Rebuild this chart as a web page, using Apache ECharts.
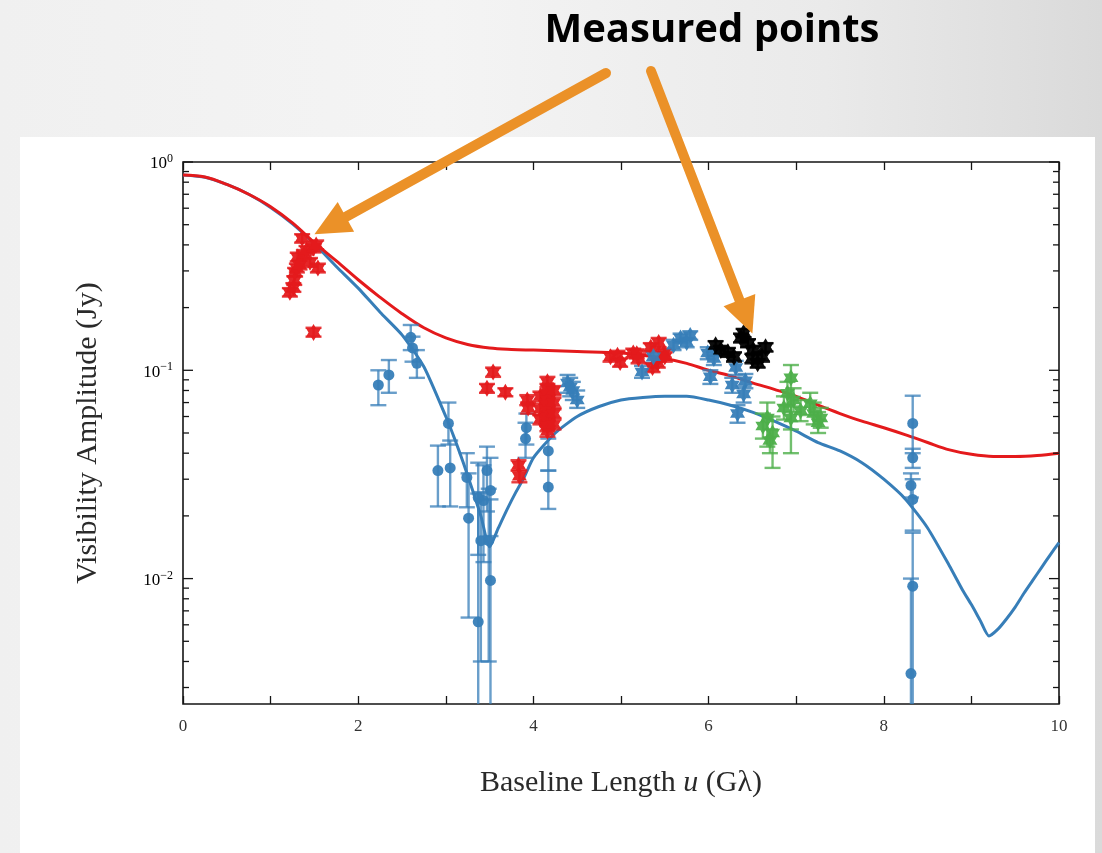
<!DOCTYPE html>
<html>
<head>
<meta charset="utf-8">
<title>Visibility amplitude vs baseline length</title>
<script src="https://cdn.jsdelivr.net/npm/echarts@6/dist/echarts.min.js"></script>
<style>
  html, body { margin: 0; padding: 0; width: 1102px; height: 853px; overflow: hidden; }
  body { position: relative; background: linear-gradient(90deg, #f0f0f0 0%, #f4f4f4 40%, #eaeaea 75%, #dadada 100%); }
  #panel { position: absolute; left: 20px; top: 137px; width: 1075px; height: 716px; background: #ffffff; }
  #chart { position: absolute; left: 0; top: 0; width: 1102px; height: 853px; }
</style>
</head>
<body>
<div id="panel"></div>
<div id="chart"></div>
<script>
// ---- model curves: [u (Gλ), amplitude (Jy)] ----
const redModel = [
  [0, 0.866], [0.25, 0.847], [0.5, 0.78], [0.75, 0.70], [1.0, 0.61], [1.25, 0.51],
  [1.5, 0.41], [1.75, 0.335], [2.0, 0.272], [2.25, 0.224], [2.5, 0.187], [2.75, 0.160],
  [3.0, 0.143], [3.25, 0.133], [3.5, 0.128], [3.75, 0.126], [4.0, 0.125], [4.5, 0.123],
  [5.0, 0.121], [5.25, 0.118], [5.5, 0.114], [5.75, 0.108], [6.0, 0.100], [6.25, 0.094],
  [6.5, 0.087], [6.75, 0.081], [7.0, 0.075], [7.25, 0.068], [7.5, 0.062], [7.75, 0.057],
  [8.0, 0.053], [8.25, 0.049], [8.5, 0.045], [8.75, 0.0415], [9.0, 0.0395], [9.25, 0.0386],
  [9.5, 0.0386], [9.75, 0.039], [10, 0.040]
];
const blueModel = [
  [0, 0.866], [0.25, 0.845], [0.5, 0.78], [0.75, 0.70], [1.0, 0.605], [1.25, 0.505],
  [1.5, 0.405], [1.75, 0.315], [2.0, 0.248], [2.25, 0.19], [2.5, 0.148], [2.75, 0.104],
  [3.0, 0.060], [3.1, 0.047], [3.2, 0.036], [3.3, 0.027], [3.4, 0.020], [3.5, 0.0142],
  [3.6, 0.0175], [3.7, 0.0215], [3.8, 0.026], [3.9, 0.031], [4.0, 0.038], [4.25, 0.050],
  [4.5, 0.060], [4.75, 0.067], [5.0, 0.072], [5.25, 0.074], [5.5, 0.075], [5.75, 0.075],
  [6.0, 0.072], [6.25, 0.068], [6.5, 0.063], [6.75, 0.057], [7.0, 0.051], [7.25, 0.045],
  [7.5, 0.041], [7.75, 0.036], [8.0, 0.030], [8.25, 0.024], [8.5, 0.0175], [8.75, 0.0115],
  [8.9, 0.0088], [9.0, 0.0075], [9.1, 0.0063], [9.2, 0.0053], [9.3, 0.0057], [9.4, 0.0064],
  [9.5, 0.0073], [9.6, 0.0085], [9.7, 0.0098], [9.8, 0.0113], [9.9, 0.0130], [10, 0.0149]
];

// ---- measurements: [u, amplitude, lower, upper] ----
const redPoints = [
  [1.22, 0.237, 0.226, 0.248], [1.26, 0.250, 0.238, 0.262], [1.27, 0.270, 0.257, 0.283],
  [1.28, 0.296, 0.282, 0.310], [1.30, 0.310, 0.295, 0.325], [1.31, 0.350, 0.333, 0.367],
  [1.33, 0.320, 0.305, 0.336], [1.36, 0.430, 0.410, 0.450], [1.38, 0.360, 0.343, 0.378],
  [1.41, 0.377, 0.359, 0.395], [1.45, 0.330, 0.314, 0.346], [1.49, 0.386, 0.368, 0.405],
  [1.52, 0.400, 0.381, 0.420], [1.54, 0.310, 0.295, 0.325], [1.49, 0.152, 0.145, 0.160],
  [3.47, 0.082, 0.078, 0.086], [3.54, 0.098, 0.093, 0.103], [3.68, 0.0785, 0.075, 0.082],
  [3.93, 0.072, 0.068, 0.076], [3.94, 0.066, 0.062, 0.070], [3.83, 0.035, 0.033, 0.037],
  [3.84, 0.031, 0.029, 0.033], [4.08, 0.075, 0.071, 0.079], [4.08, 0.065, 0.061, 0.069],
  [4.08, 0.058, 0.055, 0.061], [4.16, 0.088, 0.083, 0.093], [4.16, 0.082, 0.078, 0.086],
  [4.16, 0.077, 0.073, 0.081], [4.16, 0.072, 0.068, 0.076], [4.16, 0.068, 0.064, 0.072],
  [4.16, 0.064, 0.060, 0.068], [4.16, 0.060, 0.057, 0.063], [4.16, 0.057, 0.054, 0.060],
  [4.16, 0.054, 0.051, 0.057], [4.16, 0.051, 0.048, 0.054], [4.23, 0.080, 0.076, 0.084],
  [4.23, 0.070, 0.066, 0.074], [4.23, 0.062, 0.059, 0.065], [4.23, 0.055, 0.052, 0.058],
  [4.88, 0.116, 0.110, 0.122], [4.96, 0.118, 0.112, 0.124], [4.99, 0.109, 0.104, 0.114],
  [5.14, 0.121, 0.115, 0.127], [5.18, 0.120, 0.114, 0.126], [5.20, 0.114, 0.108, 0.120],
  [5.34, 0.129, 0.123, 0.135], [5.36, 0.103, 0.098, 0.108], [5.42, 0.108, 0.103, 0.113],
  [5.43, 0.136, 0.129, 0.143], [5.49, 0.121, 0.115, 0.127], [5.50, 0.116, 0.110, 0.122]
];
const blueDots = [
  [2.23, 0.085, 0.068, 0.100], [2.35, 0.095, 0.078, 0.112], [2.60, 0.144, 0.125, 0.165],
  [2.62, 0.128, 0.110, 0.145], [2.67, 0.108, 0.092, 0.125], [3.03, 0.0556, 0.044, 0.070],
  [2.91, 0.033, 0.0222, 0.0435], [3.05, 0.034, 0.0222, 0.046], [3.24, 0.0306, 0.022, 0.040],
  [3.26, 0.0195, 0.0065, 0.032], [3.37, 0.0062, 0.001, 0.0256], [3.51, 0.0098, 0.001, 0.024],
  [3.51, 0.0265, 0.016, 0.038], [3.47, 0.033, 0.021, 0.043], [3.43, 0.0237, 0.012, 0.035],
  [3.40, 0.0152, 0.004, 0.026], [3.49, 0.0152, 0.004, 0.027], [3.37, 0.0245, 0.013, 0.036],
  [3.91, 0.047, 0.038, 0.056], [3.92, 0.053, 0.044, 0.062], [4.17, 0.041, 0.033, 0.047],
  [4.17, 0.0275, 0.0216, 0.033], [8.33, 0.0556, 0.040, 0.0755], [8.33, 0.038, 0.034, 0.042],
  [8.31, 0.028, 0.0245, 0.032], [8.33, 0.024, 0.017, 0.030], [8.33, 0.0092, 0.001, 0.0166],
  [8.31, 0.0035, 0.001, 0.010]
];
const blueStars = [
  [4.39, 0.087, 0.078, 0.095], [4.42, 0.083, 0.075, 0.092], [4.45, 0.080, 0.072, 0.088],
  [4.50, 0.072, 0.066, 0.080], [5.24, 0.098, 0.092, 0.105], [5.37, 0.116, 0.109, 0.123],
  [5.60, 0.132, 0.125, 0.140], [5.68, 0.143, 0.136, 0.150], [5.75, 0.136, 0.129, 0.143],
  [5.79, 0.147, 0.140, 0.154], [5.99, 0.121, 0.113, 0.129], [6.02, 0.093, 0.086, 0.100],
  [6.06, 0.114, 0.106, 0.122], [6.27, 0.085, 0.078, 0.092], [6.31, 0.103, 0.095, 0.111],
  [6.40, 0.077, 0.070, 0.084], [6.42, 0.089, 0.082, 0.096], [6.33, 0.062, 0.056, 0.068]
];
const blackStars = [
  [6.08, 0.132, 0.126, 0.138], [6.14, 0.125, 0.119, 0.131], [6.22, 0.122, 0.116, 0.128],
  [6.29, 0.116, 0.110, 0.122], [6.37, 0.143, 0.136, 0.150], [6.40, 0.151, 0.144, 0.158],
  [6.45, 0.135, 0.129, 0.141], [6.50, 0.114, 0.108, 0.120], [6.51, 0.125, 0.119, 0.131],
  [6.56, 0.108, 0.103, 0.113], [6.61, 0.116, 0.110, 0.122], [6.65, 0.129, 0.123, 0.135]
];
const greenPoints = [
  [6.62, 0.054, 0.047, 0.062], [6.67, 0.059, 0.043, 0.070], [6.73, 0.050, 0.034, 0.060],
  [6.70, 0.046, 0.040, 0.052], [6.94, 0.092, 0.040, 0.106], [6.90, 0.0775, 0.068, 0.088],
  [6.97, 0.072, 0.063, 0.082], [6.86, 0.066, 0.058, 0.075], [7.05, 0.064, 0.057, 0.072],
  [6.94, 0.059, 0.052, 0.067], [7.20, 0.062, 0.055, 0.070], [7.25, 0.056, 0.050, 0.063],
  [7.16, 0.069, 0.061, 0.078], [7.28, 0.059, 0.053, 0.066]
];

// ---- axes ----
const xLabelValues = [0, 2, 4, 6, 8, 10];
const yMajorTicks = [1, 0.1, 0.01];
const yTickExponents = ['0', '\u22121', '\u22122'];
const yMinorTicks = [0.003, 0.004, 0.005, 0.006, 0.007, 0.008, 0.009,
                     0.02, 0.03, 0.04, 0.05, 0.06, 0.07, 0.08, 0.09,
                     0.2, 0.3, 0.4, 0.5, 0.6, 0.7, 0.8, 0.9];

// ---- callouts ----
const calloutTitle = 'Measured points';
const arrowTails = [[606, 73], [651, 71]];
const arrowTargets = [[1.5, 0.45], [6.5, 0.15]];

const SERIF = '"Liberation Serif", "DejaVu Serif", serif';
const RED = '#e41a1c', BLUE = '#377eb8', GREEN = '#4daf4a', BLACK = '#000000';
const ORANGE = '#eb9128';
const STAR = 'path://M10,0L12.887,5L18.66,5L15.77,10L18.66,15L12.887,15L10,20L7.113,15L1.34,15L4.23,10L1.34,5L7.113,5Z';

const chart = echarts.init(document.getElementById('chart'), null, { renderer: 'canvas' });

function errorBars(data, color, capHalf, width, opacity, z) {
  return {
    type: 'custom', data: data, z: z, clip: true, silent: true,
    encode: { x: 0, y: 1 },
    renderItem: function (params, api) {
      const u = api.value(0);
      const a = api.coord([u, api.value(2)]);
      const b = api.coord([u, api.value(3)]);
      const st = { stroke: color, lineWidth: width, opacity: opacity };
      return {
        type: 'group',
        children: [
          { type: 'line', shape: { x1: a[0], y1: a[1], x2: b[0], y2: b[1] }, style: st },
          { type: 'line', shape: { x1: a[0] - capHalf, y1: a[1], x2: a[0] + capHalf, y2: a[1] }, style: st },
          { type: 'line', shape: { x1: b[0] - capHalf, y1: b[1], x2: b[0] + capHalf, y2: b[1] }, style: st }
        ]
      };
    }
  };
}

function markers(data, color, symbol, size, z) {
  return {
    type: 'scatter', data: data, symbol: symbol, symbolSize: size, z: z, silent: true,
    encode: { x: 0, y: 1 },
    itemStyle: { color: color, opacity: 0.95 }
  };
}

const yTickData = yMajorTicks.map(function (v, i) { return [0, v, 1, i]; })
  .concat(yMinorTicks.map(function (v) { return [0, v, 0, -1]; }));

const option = {
  animation: false,
  backgroundColor: 'transparent',
  grid: {
    left: 183, right: 43, top: 162, bottom: 149,
    outerBoundsMode: 'none',
    show: true, borderColor: '#151515', borderWidth: 1.6, backgroundColor: 'transparent'
  },
  xAxis: [{
    type: 'value', min: 0, max: 10, interval: 1, position: 'bottom',
    axisLine: { show: false }, splitLine: { show: false },
    axisTick: { inside: true, length: 8, lineStyle: { color: '#151515', width: 1.3 } },
    axisLabel: {
      margin: 14, fontFamily: SERIF, fontSize: 17, color: '#333',
      formatter: function (v) { return xLabelValues.indexOf(v) >= 0 ? String(v) : ''; }
    },
    name: '{r|Baseline Length }{i|u}{r| (G\u03bb)}',
    nameLocation: 'middle', nameGap: 64,
    nameTextStyle: {
      rich: {
        r: { fontFamily: SERIF, fontSize: 30, color: '#2a2a2a' },
        i: { fontFamily: SERIF, fontSize: 30, fontStyle: 'italic', color: '#2a2a2a' }
      }
    }
  }, {
    type: 'value', min: 0, max: 10, interval: 1, position: 'top',
    axisLine: { show: false }, splitLine: { show: false }, axisLabel: { show: false },
    axisTick: { inside: true, length: 8, lineStyle: { color: '#151515', width: 1.3 } }
  }],
  yAxis: {
    type: 'log', logBase: 10, min: 0.0025, max: 1,
    axisLine: { show: false }, axisTick: { show: false }, axisLabel: { show: false },
    splitLine: { show: false },
    name: 'Visibility Amplitude (Jy)', nameLocation: 'middle', nameGap: 80, nameRotate: 90,
    nameTextStyle: { fontFamily: SERIF, fontSize: 30, color: '#2a2a2a' }
  },
  series: [
    // log-axis ticks on both sides with 10^n labels
    {
      type: 'custom', data: yTickData, clip: false, silent: true, z: 20,
      encode: { x: 0, y: 1 },
      renderItem: function (params, api) {
        const v = api.value(1);
        const major = api.value(2) === 1;
        const L = api.coord([0, v]);
        const R = api.coord([10, v]);
        const len = major ? 10 : 6;
        const st = { stroke: '#151515', lineWidth: 1.3 };
        const kids = [
          { type: 'line', shape: { x1: L[0], y1: L[1], x2: L[0] + len, y2: L[1] }, style: st },
          { type: 'line', shape: { x1: R[0] - len, y1: R[1], x2: R[0], y2: R[1] }, style: st }
        ];
        if (major) {
          kids.push({
            type: 'text', x: L[0] - 10, y: L[1] + 2,
            style: {
              text: '{b|10}{e|' + yTickExponents[api.value(3)] + '}',
              align: 'right', verticalAlign: 'middle',
              rich: {
                b: { fontFamily: SERIF, fontSize: 17, color: '#333', lineHeight: 22 },
                e: { fontFamily: SERIF, fontSize: 12, color: '#333', verticalAlign: 'top' }
              }
            }
          });
        }
        return { type: 'group', children: kids };
      }
    },
    { type: 'line', data: blueModel, showSymbol: false, silent: true, z: 3, smooth: 0.2,
      lineStyle: { color: BLUE, width: 3 }, itemStyle: { color: BLUE } },
    { type: 'line', data: redModel, showSymbol: false, silent: true, z: 4, smooth: 0.35,
      lineStyle: { color: RED, width: 3 }, itemStyle: { color: RED } },
    errorBars(blueDots, BLUE, 8, 2.4, 0.75, 5),
    errorBars(blueStars, BLUE, 8, 2.4, 0.8, 5),
    errorBars(redPoints, RED, 8, 2.4, 0.85, 6),
    errorBars(greenPoints, GREEN, 8, 2.4, 0.8, 6),
    errorBars(blackStars, BLACK, 8, 2.4, 0.9, 6),
    markers(blueDots, BLUE, 'circle', 11, 7),
    markers(redPoints, RED, STAR, [15, 17], 8),
    markers(blueStars, BLUE, STAR, [15, 17], 8),
    markers(greenPoints, GREEN, STAR, [15, 17], 8),
    markers(blackStars, BLACK, STAR, [16, 18], 9)
  ]
};
chart.setOption(option);

// orange callout arrows from the heading down to the data
function arrow(tail, tip) {
  const dx = tip[0] - tail[0], dy = tip[1] - tail[1];
  const len = Math.hypot(dx, dy);
  const ux = dx / len, uy = dy / len, px = -uy, py = ux;
  const headLen = 36, headHalf = 17;
  const bx = tip[0] - ux * headLen, by = tip[1] - uy * headLen;
  return [
    { type: 'line', z: 100, silent: true,
      shape: { x1: tail[0], y1: tail[1], x2: bx + ux * 4, y2: by + uy * 4 },
      style: { stroke: ORANGE, lineWidth: 10, lineCap: 'round' } },
    { type: 'polygon', z: 100, silent: true,
      shape: { points: [[tip[0], tip[1]], [bx + px * headHalf, by + py * headHalf], [bx - px * headHalf, by - py * headHalf]] },
      style: { fill: ORANGE } }
  ];
}

const graphics = [{
  type: 'text', x: 712, y: 31, z: 100, silent: true,
  style: { text: calloutTitle, font: 'bold 40px "Open Sans", "Liberation Sans", sans-serif',
           fill: '#000', align: 'center', verticalAlign: 'middle' }
}];
arrowTargets.forEach(function (t, i) {
  const tip = chart.convertToPixel({ gridIndex: 0 }, t);
  arrow(arrowTails[i], tip).forEach(function (g) { graphics.push(g); });
});
chart.setOption({ graphic: graphics });
</script>
</body>
</html>
